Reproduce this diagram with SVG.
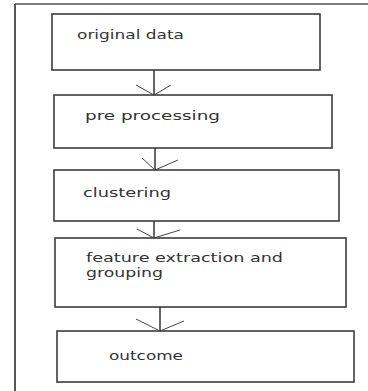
<svg xmlns="http://www.w3.org/2000/svg" width="368" height="391" viewBox="0 0 368 391">
<style>
.box{fill:#fff;stroke:#3c3c3c;stroke-width:1.6}
.lbl{font-family:"DejaVu Sans","Liberation Sans",sans-serif;font-size:13px;fill:#333}
.con{fill:none;stroke:#333;stroke-width:1.5}
.head{fill:none;stroke:#444;stroke-width:1}
</style>
<rect width="368" height="391" fill="#fff"/>
<g id="frame">
<line x1="15" y1="4" x2="368" y2="4" stroke="#555" stroke-width="1.5"/>
<line x1="15" y1="4" x2="15" y2="391" stroke="#444" stroke-width="1.8"/>
</g>
<g id="n1"><rect class="box" x="52" y="14" width="268" height="56"/><text class="lbl" x="77" y="39" textLength="107" lengthAdjust="spacingAndGlyphs">original data</text></g>
<g id="n2"><rect class="box" x="54" y="95" width="278" height="53"/><text class="lbl" x="85" y="120" textLength="135" lengthAdjust="spacingAndGlyphs">pre processing</text></g>
<g id="n3"><rect class="box" x="54" y="170" width="285" height="51"/><text class="lbl" x="83" y="197" textLength="88" lengthAdjust="spacingAndGlyphs">clustering</text></g>
<g id="n4"><rect class="box" x="55" y="238" width="291" height="69"/><text class="lbl" x="86" y="262" textLength="197" lengthAdjust="spacingAndGlyphs">feature extraction and</text><text class="lbl" x="86" y="277" textLength="77" lengthAdjust="spacingAndGlyphs">grouping</text></g>
<g id="n5"><rect class="box" x="57" y="331" width="297" height="51"/><text class="lbl" x="109" y="360" textLength="74" lengthAdjust="spacingAndGlyphs">outcome</text></g>
<g id="connectors">
<line class="con" x1="154" y1="70" x2="154" y2="95"/>
<polyline class="head" points="136,85 154,95 171,85"/>
<line class="con" x1="155" y1="148" x2="155" y2="170"/>
<polyline class="head" points="142,158 155,170 178,160"/>
<line class="con" x1="154" y1="221" x2="154" y2="238"/>
<polyline class="head" points="137,229 154,238 180,230"/>
<line class="con" x1="160" y1="307" x2="160" y2="331"/>
<polyline class="head" points="136,319 160,331 184,321"/>
</g>
</svg>
